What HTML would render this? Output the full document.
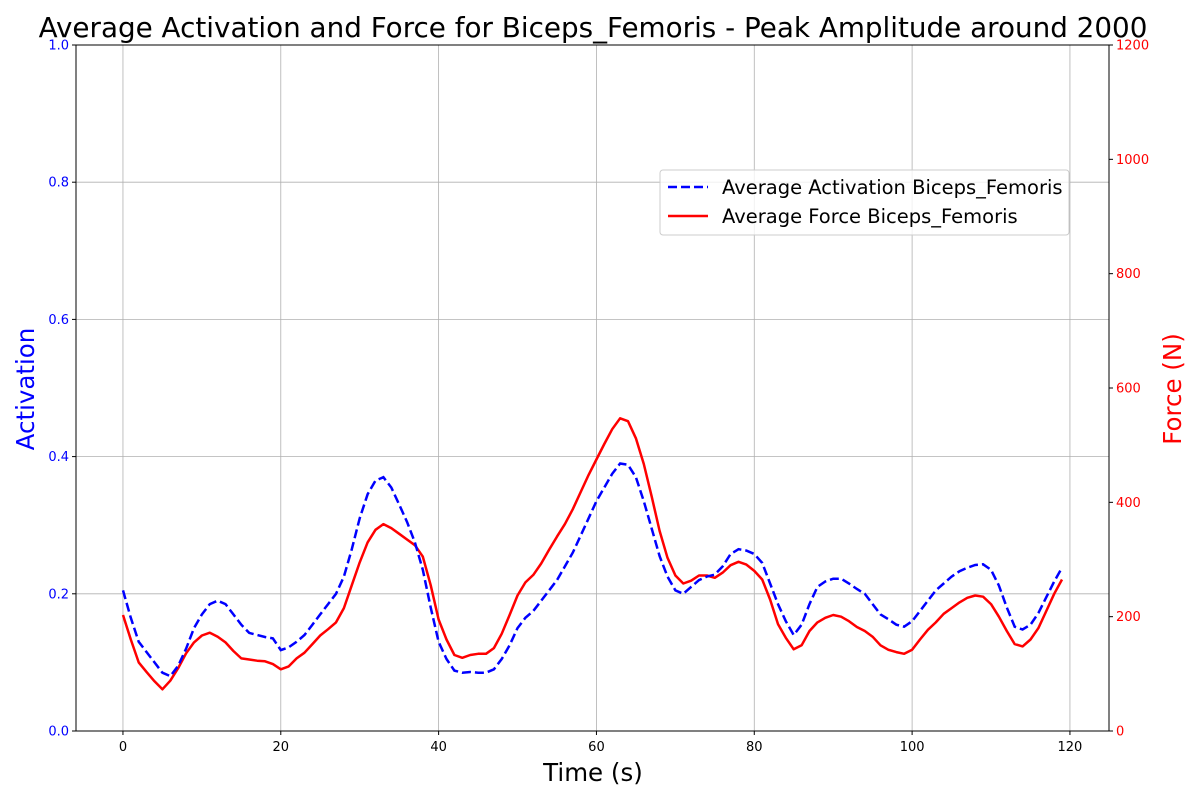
<!DOCTYPE html>
<html><head><meta charset="utf-8"><style>
body{margin:0;background:#fff;}
svg text{font-family:"DejaVu Sans","Liberation Sans",sans-serif;}
</style></head><body>
<svg id="chart" width="1200" height="800" xmlns="http://www.w3.org/2000/svg"></svg>
<script>
const times = Array.from({length:120},(_,i)=>i);
const activation = [0.205,0.165,0.13,0.115,0.1,0.085,0.08,0.095,0.12,0.15,0.17,0.185,0.19,0.185,0.17,0.155,0.143,0.14,0.137,0.135,0.118,0.122,0.13,0.14,0.155,0.17,0.185,0.2,0.225,0.265,0.31,0.345,0.365,0.37,0.355,0.33,0.305,0.275,0.235,0.18,0.13,0.105,0.088,0.085,0.086,0.085,0.085,0.09,0.105,0.125,0.15,0.165,0.175,0.19,0.205,0.22,0.24,0.26,0.285,0.31,0.335,0.355,0.375,0.39,0.388,0.37,0.335,0.295,0.255,0.225,0.205,0.2,0.21,0.22,0.225,0.228,0.24,0.258,0.265,0.263,0.258,0.245,0.215,0.185,0.16,0.14,0.155,0.185,0.21,0.218,0.222,0.222,0.215,0.207,0.2,0.185,0.17,0.163,0.155,0.152,0.16,0.175,0.19,0.205,0.215,0.225,0.233,0.238,0.242,0.243,0.235,0.212,0.18,0.152,0.148,0.155,0.172,0.195,0.218,0.238];
const force = [203,160,120,103,87,73,88,110,136,155,167,172,165,155,140,127,125,123,122,117,108,113,127,137,152,167,178,190,215,255,295,330,352,362,355,345,335,325,305,255,195,160,133,128,133,135,135,145,170,203,237,260,273,293,317,340,362,388,418,448,475,502,528,547,542,512,467,410,350,303,272,258,263,272,272,268,277,290,296,291,280,265,230,187,163,143,150,175,190,198,203,200,192,182,175,165,150,142,138,135,142,160,177,190,205,215,225,233,237,235,222,200,175,152,148,160,180,210,240,265];
const xTicks = [0,20,40,60,80,100,120];
const yLeftTicks = [0.0,0.2,0.4,0.6,0.8,1.0];
const yRightTicks = [0,200,400,600,800,1000,1200];

const L=76,R=1109,T=45,B=731;
const xMin=-5.95,xMax=124.95;
const sx=v=>L+(v-xMin)/(xMax-xMin)*(R-L);
const syL=v=>B-v/1.0*(B-T);
const syR=v=>B-v/1200*(B-T);
const svg=document.getElementById('chart');
const NS='http://www.w3.org/2000/svg';
function el(tag,attrs,parent){const e=document.createElementNS(NS,tag);for(const k in attrs)e.setAttribute(k,attrs[k]);(parent||svg).appendChild(e);return e;}
function txt(s,attrs){const e=el('text',attrs);e.textContent=s;return e;}

xTicks.forEach(v=>{const g=el('line',{x1:sx(v),x2:sx(v),y1:T,y2:B,stroke:'#b0b0b0','stroke-width':0.8});

});
yLeftTicks.forEach(v=>{const g=el('line',{x1:L,x2:R,y1:syL(v),y2:syL(v),stroke:'#b0b0b0','stroke-width':0.8});

});

const pf=times.map((t,i)=>sx(t).toFixed(1)+','+syR(force[i]).toFixed(1)).join(' ');
const fl=el('polyline',{points:pf,fill:'none',stroke:'#ff0000','stroke-width':2.5,'stroke-linejoin':'round'});


const pa=times.map((t,i)=>sx(t).toFixed(1)+','+syL(activation[i]).toFixed(1)).join(' ');
const al=el('polyline',{points:pa,fill:'none',stroke:'#0000ff','stroke-width':2.5,'stroke-dasharray':'9,4'});



const fr=el('rect',{x:L,y:T,width:R-L,height:B-T,fill:'none',stroke:'#000','stroke-width':1});



xTicks.forEach(v=>{el('line',{x1:sx(v),x2:sx(v),y1:B,y2:B+4,stroke:'#000'});
const t=txt(String(v),{x:sx(v),y:B+20,'font-size':13,'text-anchor':'middle',fill:'#000'});

});
yLeftTicks.forEach(v=>{el('line',{x1:L-4,x2:L,y1:syL(v),y2:syL(v),stroke:'#000'});
const t=txt(v.toFixed(1),{x:L-7,y:syL(v)+4.5,'font-size':13,'text-anchor':'end',fill:'#0000ff'});

});
yRightTicks.forEach(v=>{el('line',{x1:R,x2:R+4,y1:syR(v),y2:syR(v),stroke:'#000'});
const t=txt(String(v),{x:R+7,y:syR(v)+4.5,'font-size':13,'text-anchor':'start',fill:'#ff0000'});

});

let t=txt('Average Activation and Force for Biceps_Femoris - Peak Amplitude around 2000',{x:593,y:37,'font-size':27.8,'text-anchor':'middle',fill:'#000'});


t=txt('Time (s)',{x:593,y:781,'font-size':24.5,'text-anchor':'middle',fill:'#000'});


t=txt('Activation',{x:0,y:0,'font-size':24.5,'text-anchor':'middle',fill:'#0000ff',transform:'translate(34,389) rotate(-90)'});


t=txt('Force (N)',{x:0,y:0,'font-size':24.5,'text-anchor':'middle',fill:'#ff0000',transform:'translate(1181,389) rotate(-90)'});



const lg=el('rect',{x:660,y:170,width:409,height:65,rx:3,fill:'#fff','fill-opacity':0.8,stroke:'#cccccc'});


el('line',{x1:668,x2:708,y1:187,y2:187,stroke:'#0000ff','stroke-width':2.5,'stroke-dasharray':'9,4'});
t=txt('Average Activation Biceps_Femoris',{x:722,y:194,'font-size':19.5,fill:'#000'});


el('line',{x1:668,x2:708,y1:216,y2:216,stroke:'#ff0000','stroke-width':2.5});
t=txt('Average Force Biceps_Femoris',{x:722,y:223,'font-size':19.5,fill:'#000'});


</script>
</body></html>
